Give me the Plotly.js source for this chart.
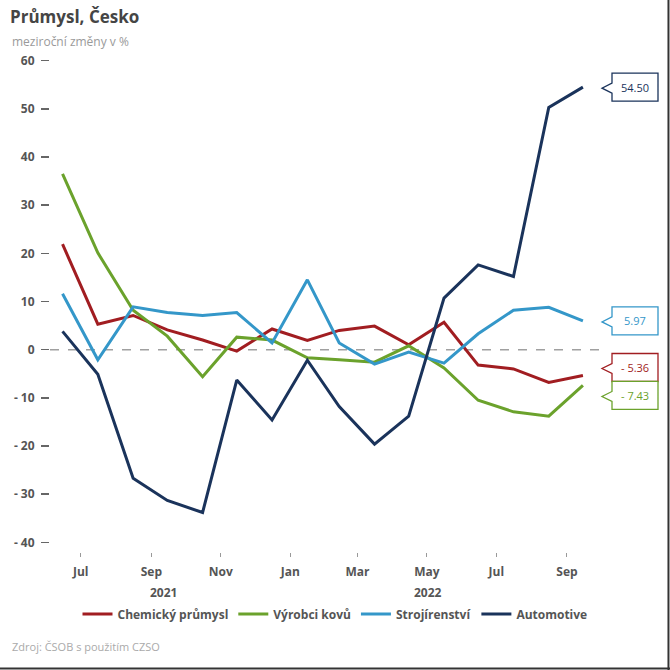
<!DOCTYPE html>
<html>
<head>
<meta charset="utf-8">
<script src="https://cdn.plot.ly/plotly-3.0.1.min.js"></script>
<style>
  html, body { margin: 0; padding: 0; background: #fff; }
  #plotArea { width: 670px; height: 670px; }
</style>
</head>
<body>
<div id="plotArea"></div>
<script>
// months Jun 2021 - Sep 2022, plotted at month end
var months = ['2021-06', '2021-07', '2021-08', '2021-09', '2021-10', '2021-11', '2021-12',
  '2022-01', '2022-02', '2022-03', '2022-04', '2022-05', '2022-06', '2022-07', '2022-08', '2022-09'];

var chemicky = [21.9, 5.3, 7.1, 4.1, 2.0, -0.3, 4.3, 1.9, 4.0, 4.9, 1.0, 5.7, -3.2, -4.0, -6.8, -5.36];
var vyrobciKovu = [36.5, 20.1, 8.2, 2.8, -5.6, 2.6, 2.0, -1.7, -2.1, -2.6, 0.8, -3.8, -10.5, -12.9, -13.8, -7.43];
var strojirenstvi = [11.6, -2.1, 8.9, 7.7, 7.1, 7.7, 1.4, 14.5, 1.4, -3.0, -0.5, -2.8, 3.3, 8.2, 8.8, 5.97];
var automotive = [3.8, -5.1, -26.7, -31.3, -33.8, -6.3, -14.6, -2.2, -11.8, -19.6, -13.8, 10.7, 17.6, 15.2, 50.3, 54.5];

var seriesNames = ['Chemický průmysl', 'Výrobci kovů', 'Strojírenství', 'Automotive'];
var seriesColors = ['#a11d21', '#6ba22c', '#3497c9', '#1a335b'];

var tickMonths = ['2021-07', '2021-09', '2021-11', '2022-01', '2022-03', '2022-05', '2022-07', '2022-09'];
var tickNames = ['Jul', 'Sep', 'Nov', 'Jan', 'Mar', 'May', 'Jul', 'Sep'];
var yTicks = [-40, -30, -20, -10, 0, 10, 20, 30, 40, 50, 60];

function monthEnd(m) {
  var p = m.split('-');
  var d = new Date(Date.UTC(+p[0], +p[1], 0));
  return d.toISOString().slice(0, 10);
}
var xDates = months.map(monthEnd);

var allSeries = [chemicky, vyrobciKovu, strojirenstvi, automotive];
var data = allSeries.map(function (vals, i) {
  return {
    x: xDates,
    y: vals,
    name: seriesNames[i],
    type: 'scatter',
    mode: 'lines',
    line: {color: seriesColors[i], width: 3},
    hoverinfo: 'skip'
  };
});

var shapes = [
  {type: 'line', xref: 'paper', yref: 'y', x0: 0, x1: 1, y0: 0, y1: 0,
    line: {color: '#a0a0a0', width: 1.5, dash: 'dash'}, layer: 'below'},
  {type: 'line', xref: 'paper', yref: 'paper', x0: 1.1245, x1: 1.1245, y0: -0.24, y1: 1.11,
    line: {color: '#333', width: 2}},
  {type: 'line', xref: 'paper', yref: 'paper', x0: -0.1, x1: 1.13, y0: -0.2325, y1: -0.2325,
    line: {color: '#333', width: 2}}
];

// end-value callouts (vertical nudges in px so boxes don't overlap)
var labelShift = [8, -10, 0, 0];
var annotations = [];
allSeries.forEach(function (vals, i) {
  var v = vals[vals.length - 1];
  var s = labelShift[i];
  var txt = (v < 0 ? '- ' + Math.abs(v).toFixed(2) : v.toFixed(2));
  var path = 'M12,' + (s + 14) + ' L58,' + (s + 14) + ' L58,' + (s - 14) + ' L12,' + (s - 14) +
    ' L12,' + (s - 6) + ' L2,' + (s - 1) + ' L12,' + (s + 4) + ' Z';
  shapes.push({
    type: 'path', xref: 'paper', yref: 'y',
    xsizemode: 'pixel', ysizemode: 'pixel', xanchor: 1, yanchor: v,
    path: path, fillcolor: '#fff',
    line: {color: seriesColors[i], width: 1.3}
  });
  annotations.push({
    xref: 'paper', yref: 'y', x: 1, y: v, xshift: 35, yshift: s,
    xanchor: 'center', yanchor: 'middle',
    text: txt, showarrow: false,
    font: {family: 'Open Sans', size: 11, color: seriesColors[i]}
  });
});

annotations.push({
  xref: 'paper', yref: 'paper', x: -0.0727, y: 1.018,
  xanchor: 'left', yanchor: 'middle', showarrow: false,
  text: 'meziroční změny v %',
  font: {family: 'Open Sans', size: 12, color: '#9a9a9a'}
});
annotations.push({
  xref: 'x', yref: 'paper', x: '2021-09-27', y: -0.08,
  yanchor: 'middle', showarrow: false, text: '2021',
  font: {family: 'Open Sans', size: 12, color: '#555', weight: 'bold'}
});
annotations.push({
  xref: 'x', yref: 'paper', x: '2022-05-17', y: -0.08,
  yanchor: 'middle', showarrow: false, text: '2022',
  font: {family: 'Open Sans', size: 12, color: '#555', weight: 'bold'}
});
annotations.push({
  xref: 'paper', yref: 'paper', x: -0.0727, y: -0.188,
  xanchor: 'left', yanchor: 'middle', showarrow: false,
  text: 'Zdroj: ČSOB s použitím CZSO',
  font: {family: 'Open Sans', size: 11, color: '#aaa'}
});

var layout = {
  width: 670,
  height: 670,
  margin: {l: 50, r: 70, t: 51, b: 118},
  paper_bgcolor: '#fff',
  plot_bgcolor: '#fff',
  font: {family: 'Open Sans', color: '#555'},
  title: {
    text: 'Průmysl, Česko',
    xref: 'container', x: 0.015, xanchor: 'left',
    yref: 'container', y: 0.975, yanchor: 'middle',
    font: {family: 'Open Sans', size: 17, color: '#454545', weight: 'bold'}
  },
  xaxis: {
    type: 'date',
    range: ['2021-06-19', '2022-10-15'],
    tickmode: 'array',
    tickvals: tickMonths.map(function (m) { return m + '-16'; }),
    ticktext: tickNames,
    ticks: 'outside', ticklen: 4, tickcolor: '#999', tickwidth: 1,
    ticklabelstandoff: 5,
    showgrid: false, zeroline: false, showline: false,
    tickfont: {family: 'Open Sans', size: 12, color: '#555', weight: 'bold'},
    fixedrange: true
  },
  yaxis: {
    range: [-42, 62],
    tickmode: 'array',
    tickvals: yTicks,
    ticktext: yTicks.map(function (t) { return t < 0 ? '- ' + Math.abs(t) : String(t); }),
    ticks: 'outside', ticklen: 8, tickcolor: '#666', tickwidth: 1.5,
    ticklabelstandoff: 4,
    showgrid: false, zeroline: false, showline: false,
    tickfont: {family: 'Open Sans', size: 12, color: '#555', weight: 'bold'},
    fixedrange: true
  },
  showlegend: true,
  legend: {
    orientation: 'h',
    xref: 'container', x: 0.5, xanchor: 'center',
    yref: 'container', y: 1 - 614 / 670, yanchor: 'middle',
    font: {family: 'Open Sans', size: 12, color: '#555', weight: 'bold'},
    itemwidth: 30,
    tracegroupgap: 0
  },
  shapes: shapes,
  annotations: annotations
};

Plotly.newPlot('plotArea', data, layout, {displayModeBar: false, staticPlot: true});
</script>
</body>
</html>
